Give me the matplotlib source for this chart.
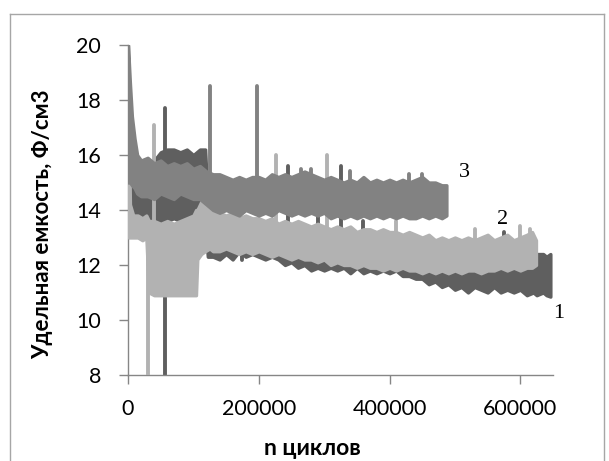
import numpy as np
import matplotlib.pyplot as plt
from matplotlib.lines import Line2D

# cycle counts are given in thousands of cycles
# curve 1 - upper / lower edge of the noisy band
cyc_1 = [0, 5, 10, 20, 30, 40, 50, 60, 70, 80, 90, 100, 110, 118, 122,
         130, 140, 150, 160, 170, 180, 190, 200, 210, 220, 230, 240, 250,
         260, 270, 280, 290, 300, 310, 320, 330, 340, 350, 360, 370, 380,
         390, 400, 410, 420, 430, 440, 450, 460, 470, 480, 490, 500, 510,
         520, 530, 540, 550, 560, 570, 580, 590, 600, 610, 620, 625, 635,
         640, 646]
hi_1 = [18.0, 17.4, 16.0, 15.5, 15.5, 15.8, 16.1, 16.2, 16.2, 16.1, 16.2,
        16.0, 16.2, 16.2, 14.2, 13.6, 13.8, 13.5, 13.6, 13.7, 13.6, 13.5,
        13.4, 13.5, 13.4, 13.3, 13.4, 13.3, 13.2, 13.3, 13.2, 13.1, 13.2,
        13.1, 13.0, 13.1, 13.0, 12.9, 13.0, 12.9, 12.8, 12.9, 12.8, 12.7,
        12.8, 12.6, 12.7, 12.6, 12.5, 12.4, 12.4, 12.3, 12.4, 12.3, 12.2,
        12.3, 12.2, 12.3, 12.2, 12.1, 12.2, 12.1, 12.2, 12.0, 12.1, 12.4,
        12.4, 12.3, 12.4]
lo_1 = [14.5, 14.0, 13.8, 13.7, 13.6, 13.6, 13.6, 13.6, 13.7, 13.6, 13.7,
        13.6, 13.7, 13.5, 12.3, 12.3, 12.2, 12.4, 12.2, 12.5, 12.3, 12.4,
        12.3, 12.2, 12.3, 12.2, 12.0, 12.1, 11.9, 12.0, 11.8, 11.9, 11.8,
        11.9, 11.8, 11.9, 11.7, 11.9, 11.7, 11.8, 11.7, 11.8, 11.7, 11.8,
        11.6, 11.6, 11.5, 11.5, 11.3, 11.4, 11.2, 11.3, 11.1, 11.2, 11.0,
        11.2, 11.1, 11.0, 11.2, 11.0, 11.1, 11.0, 11.1, 10.9, 11.0, 10.9,
        11.0, 10.9, 10.85]
spike_x_1 = [56, 56, 175, 245, 290, 325, 360, 575]
spike_y_1 = [17.7, 8.0, 12.2, 15.6, 13.8, 15.6, 13.6, 13.2]

# curve 2
cyc_2 = [1, 3, 8, 15, 22, 28, 32, 40, 50, 60, 70, 80, 90, 100, 104, 106,
         112, 118, 125, 130, 140, 150, 160, 170, 180, 190, 200, 210, 220,
         230, 240, 250, 260, 270, 280, 290, 300, 310, 320, 330, 340, 350,
         360, 370, 380, 390, 400, 410, 420, 430, 440, 450, 460, 470, 480,
         490, 500, 510, 520, 530, 540, 550, 560, 570, 580, 590, 600, 610,
         618, 624]
hi_2 = [17.5, 14.2, 13.8, 13.8, 13.7, 13.8, 13.6, 13.6, 13.5, 13.6, 13.5,
        13.6, 13.7, 13.8, 14.0, 14.0, 14.3, 14.5, 14.2, 14.0, 13.9, 13.8,
        13.9, 13.7, 13.8, 13.7, 13.7, 13.6, 13.7, 13.5, 13.6, 13.5, 13.6,
        13.5, 13.4, 13.5, 13.4, 13.3, 13.4, 13.3, 13.4, 13.2, 13.3, 13.3,
        13.2, 13.3, 13.2, 13.2, 13.1, 13.2, 13.1, 13.0, 13.1, 12.9, 13.0,
        12.9, 13.0, 12.9, 13.0, 12.9, 13.0, 13.1, 12.9, 13.0, 13.1, 12.9,
        13.0, 13.1, 13.2, 12.9]
lo_2 = [13.0, 13.0, 13.0, 13.0, 12.9, 13.0, 11.0, 10.9, 10.9, 10.9, 10.9,
        10.9, 10.9, 10.9, 10.9, 12.2, 12.4, 12.5, 12.6, 12.5, 12.5, 12.6,
        12.5, 12.4, 12.5, 12.4, 12.5, 12.4, 12.3, 12.4, 12.3, 12.2, 12.3,
        12.2, 12.2, 12.1, 12.2, 12.0, 12.1, 12.0, 12.0, 11.9, 12.0, 11.9,
        11.9, 11.8, 11.9, 11.8, 11.9, 11.8, 11.8, 11.7, 11.8, 11.7, 11.8,
        11.7, 11.8, 11.7, 11.8, 11.8, 11.7, 11.8, 11.8, 11.9, 11.8, 11.9,
        11.8, 11.9, 11.9, 12.0]
spike_x_2 = [31, 39, 226, 305, 410, 530, 600, 615]
spike_y_2 = [8.0, 17.1, 16.0, 16.0, 13.6, 13.3, 13.4, 13.3]

# curve 3
cyc_3 = [0, 3, 6, 10, 14, 20, 30, 40, 50, 60, 70, 80, 90, 100, 110, 120,
         130, 140, 150, 160, 170, 180, 190, 200, 210, 220, 230, 240, 250,
         260, 270, 280, 290, 300, 310, 320, 330, 340, 350, 360, 370, 380,
         390, 400, 410, 420, 430, 440, 450, 460, 470, 480, 487]
hi_3 = [20.0, 18.6, 17.4, 16.6, 16.0, 15.8, 15.9, 15.7, 15.8, 15.6, 15.7,
        15.6, 15.7, 15.5, 15.6, 15.4, 15.3, 15.3, 15.2, 15.1, 15.2, 15.1,
        15.2, 15.2, 15.1, 15.3, 15.2, 15.3, 15.2, 15.3, 15.4, 15.3, 15.2,
        15.1, 15.2, 15.1, 15.0, 15.1, 15.0, 15.2, 15.0, 15.1, 15.0, 15.1,
        15.0, 15.1, 15.0, 15.1, 15.2, 15.0, 15.0, 14.9, 14.9]
lo_3 = [15.0, 15.0, 14.9, 14.8, 14.6, 14.5, 14.5, 14.4, 14.6, 14.5, 14.4,
        14.6, 14.5, 14.4, 14.4, 14.2, 14.0, 13.9, 14.0, 13.9, 13.8, 14.0,
        13.9, 13.8, 13.9, 13.8, 14.0, 13.9, 13.8, 13.9, 13.8, 13.9, 13.8,
        13.9, 13.7, 13.8, 13.7, 13.8, 13.7, 13.8, 13.7, 13.8, 13.7, 13.8,
        13.7, 13.8, 13.7, 13.7, 13.8, 13.7, 13.8, 13.7, 13.8]
spike_x_3 = [125, 197, 265, 280, 340, 430, 450]
spike_y_3 = [18.5, 18.5, 15.5, 15.5, 15.4, 15.3, 15.3]

x_ticks = [0, 200000, 400000, 600000]
y_ticks = [8, 10, 12, 14, 16, 18, 20]

series = [
    (cyc_1, hi_1, lo_1, spike_x_1, spike_y_1, '#5f5f5f'),
    (cyc_2, hi_2, lo_2, spike_x_2, spike_y_2, '#b2b2b2'),
    (cyc_3, hi_3, lo_3, spike_x_3, spike_y_3, '#828282'),
]

sans = ['Lato', 'DejaVu Sans']

fig = plt.figure(figsize=(6.09, 4.61), dpi=100)
ax = fig.add_axes([128 / 609, 1 - 375 / 461, 425 / 609, 330 / 461])

for z, (cyc, hi, lo, sx, sy, col) in enumerate(series):
    x = np.array(cyc) * 1000
    hi = np.array(hi)
    lo = np.array(lo)
    band = ax.fill_between(x, lo, hi, facecolor=col, edgecolor=col,
                           lw=2.4, zorder=2 + z)
    band.set_joinstyle('round')
    mid = (hi + lo) / 2
    for xs, ys in zip(sx, sy):
        base = np.interp(xs * 1000, x, mid)
        ax.plot([xs * 1000, xs * 1000], [base, ys], color=col, lw=2.8,
                solid_capstyle='round', zorder=2 + z)

ax.set_xlim(0, 650000)
ax.set_ylim(8, 20)
ax.set_xticks(x_ticks)
ax.set_yticks(y_ticks)

for s in ['top', 'right']:
    ax.spines[s].set_visible(False)
for s in ['left', 'bottom']:
    ax.spines[s].set_color('#868686')
    ax.spines[s].set_linewidth(1.0)

ax.tick_params(axis='both', direction='out', length=6.5, width=1.0,
               color='#868686', labelsize=15.5)
ax.tick_params(axis='y', pad=13)
ax.tick_params(axis='x', pad=11)
for lab in ax.get_xticklabels() + ax.get_yticklabels():
    lab.set_fontfamily(sans)

fig.text(312 / 609, 1 - 448 / 461, 'n циклов', fontsize=16.5,
         fontweight='bold', family=sans, ha='center', va='center')
fig.text(43 / 609, 1 - 224 / 461, 'Удельная емкость, Ф/см3', fontsize=16,
         fontweight='bold', family=sans, rotation=90,
         ha='center', va='center')

# curve numbers
for n, xx, yy in [('1', 658000, 10.25), ('2', 573000, 13.64), ('3', 515000, 15.35)]:
    ax.text(xx, yy, n, fontsize=16, family='Liberation Serif',
            ha='center', va='center', clip_on=False)

# chart frame
frame = '#a6a6a6'
fig.add_artist(Line2D([10 / 609, 10 / 609], [0, 1 - 14 / 461],
                      color=frame, lw=1.0, transform=fig.transFigure))
fig.add_artist(Line2D([10 / 609, 604 / 609], [1 - 14 / 461, 1 - 14 / 461],
                      color=frame, lw=1.0, transform=fig.transFigure))
fig.add_artist(Line2D([604 / 609, 604 / 609], [0, 1 - 14 / 461],
                      color=frame, lw=1.0, transform=fig.transFigure))

fig.savefig('out.png', dpi=100)
